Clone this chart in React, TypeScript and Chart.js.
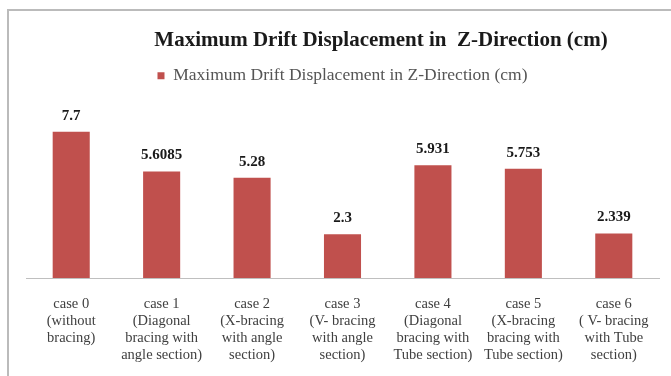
import React, { useEffect, useRef } from "react";
import { Chart, registerables } from "chart.js";

Chart.register(...registerables);

const TITLE = "Maximum Drift Displacement in  Z-Direction (cm)";
const SERIES_LABEL = "Maximum Drift Displacement in Z-Direction (cm)";
const categories: string[][] = [
  ["case 0", "(without", "bracing)"],
  ["case 1", "(Diagonal", "bracing with", "angle section)"],
  ["case 2", "(X-bracing", "with angle", "section)"],
  ["case 3", "(V- bracing", "with angle", "section)"],
  ["case 4", "(Diagonal", "bracing with", "Tube section)"],
  ["case 5", "(X-bracing", "bracing with", "Tube section)"],
  ["case 6", "( V- bracing", "with Tube", "section)"],
];
const values: number[] = [7.7, 5.6085, 5.28, 2.3, 5.931, 5.753, 2.339];
const valueLabels: string[] = ["7.7", "5.6085", "5.28", "2.3", "5.931", "5.753", "2.339"];

const SERIF = "'Liberation Serif', 'DejaVu Serif', serif";

export default function App() {
  const ref = useRef<HTMLCanvasElement | null>(null);
  useEffect(() => {
    if (!ref.current) return;
    const titlePlugin = {
      id: "customTitle",
      afterDraw(chart: any) {
        const ctx = chart.ctx;
        ctx.save();
        ctx.font = `bold 21px ${SERIF}`;
        ctx.fillStyle = "#1a1a1a";
        ctx.textAlign = "center";
        ctx.textBaseline = "middle";
        ctx.fillText(TITLE, 381, 41);
        ctx.restore();
      },
    };
    const valuePlugin = {
      id: "valueLabels",
      afterDatasetsDraw(chart: any) {
        const ctx = chart.ctx;
        const meta = chart.getDatasetMeta(0);
        ctx.save();
        ctx.font = `bold 15px ${SERIF}`;
        ctx.fillStyle = "#1a1a1a";
        ctx.textAlign = "center";
        ctx.textBaseline = "middle";
        meta.data.forEach((bar: any, i: number) => {
          ctx.fillText(valueLabels[i], bar.x, bar.y - 16);
        });
        ctx.restore();
      },
    };
    const chart = new Chart(ref.current, {
      type: "bar",
      data: {
        labels: categories,
        datasets: [
          {
            label: SERIES_LABEL,
            data: values,
            backgroundColor: "#C0504D",
            borderWidth: 0,
            barPercentage: 0.41,
            categoryPercentage: 1,
          },
        ],
      },
      options: {
        animation: false,
        responsive: false,
        maintainAspectRatio: false,
        layout: { padding: { left: 26, right: 12, top: 45, bottom: 0 } },
        plugins: {
          title: { display: false },
          tooltip: { enabled: false },
          legend: {
            display: true,
            position: "top",
            labels: {
              font: { family: SERIF, size: 17.5 },
              color: "#555555",
              boxWidth: 7,
              boxHeight: 7,
              padding: 22,
            },
          },
        },
        scales: {
          x: {
            grid: { display: false, drawTicks: false },
            border: { display: true, color: "#BFBFBF", width: 1 },
            ticks: {
              font: { family: SERIF, size: 14.5, lineHeight: 1.17 },
              color: "#404040",
              maxRotation: 0,
              autoSkip: false,
              padding: 17.5,
            },
            afterFit(scale: any) {
              scale.height = 98;
            },
          },
          y: {
            display: false,
            min: 0,
            max: 9.66,
          },
        },
      },
      plugins: [titlePlugin, valuePlugin],
    });
    return () => chart.destroy();
  }, []);
  return (
    <div
      style={{
        position: "absolute",
        left: 0,
        top: 0,
        width: 671,
        height: 376,
        background: "#fff",
        overflow: "hidden",
      }}
    >
      <div
        style={{
          position: "absolute",
          left: 7,
          top: 9,
          width: 700,
          height: 400,
          borderLeft: "2px solid #BBBBBB",
          borderTop: "2px solid #BBBBBB",
          boxSizing: "border-box",
        }}
      />
      <canvas
        ref={ref}
        width={671}
        height={376}
        style={{ position: "absolute", left: 0, top: 0 }}
      />
    </div>
  );
}
